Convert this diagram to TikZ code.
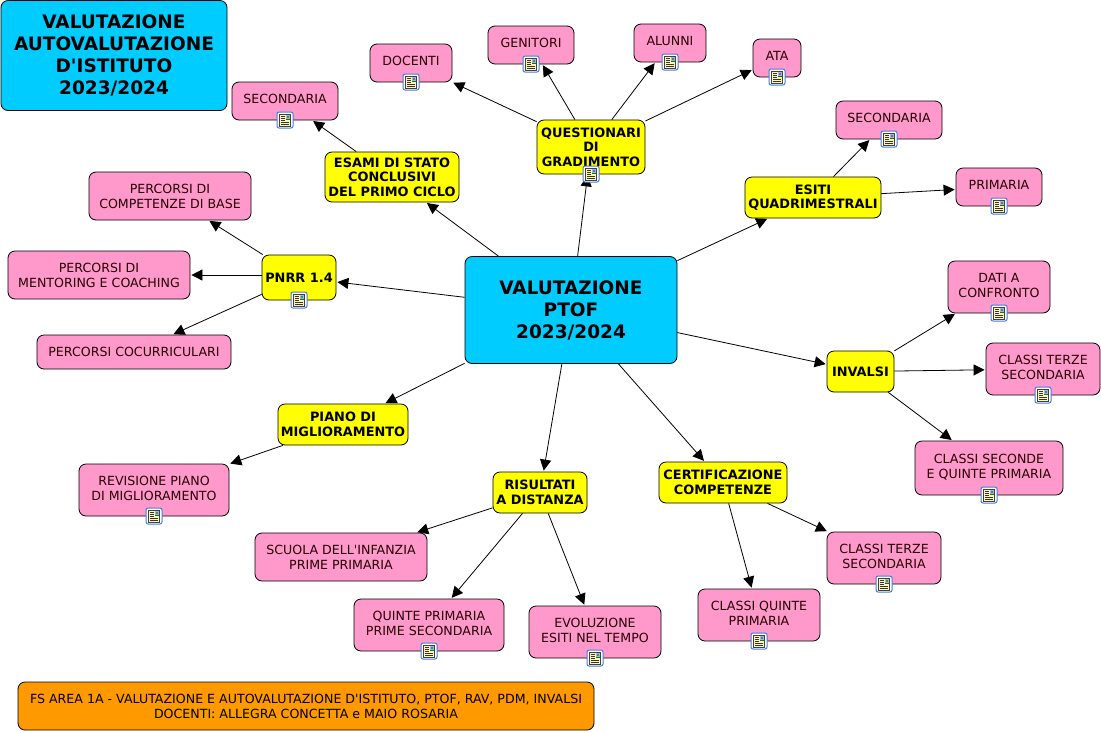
\documentclass[tikz,border=0pt]{standalone}
\usepackage{fontspec}
\setmainfont{DejaVu Sans}
\usetikzlibrary{arrows.meta}
\definecolor{skybox}{RGB}{0,204,255}
\definecolor{yellowbox}{RGB}{255,255,0}
\definecolor{pinkbox}{RGB}{255,153,204}
\definecolor{orangebox}{RGB}{255,153,0}
\definecolor{iconblue}{RGB}{70,125,220}
\definecolor{iconpaper}{RGB}{255,245,185}
\newcommand{\upnote}{\\[-11pt]}
\tikzset{
  box/.style={draw=black,rounded corners=7pt,line width=0.8pt,align=center,inner sep=0pt},
  leaf/.style={box,fill=pinkbox,font=\fontsize{12.6}{15}\selectfont,text=black!85!red},
  topic/.style={box,fill=yellowbox,font=\fontsize{12.9}{14.5}\selectfont\bfseries},
  mainbox/.style={box,fill=skybox,font=\fontsize{18.5}{22}\selectfont\bfseries},
  link/.style={-{Triangle[length=11pt,width=11pt]},line width=0.8pt,shorten >=1pt},
  noteicon/.pic={
    \draw[iconblue,fill=white,rounded corners=2pt,line width=1pt] (-8,-8) rectangle (8,8);
    \draw[black!75,fill=iconpaper,line width=0.6pt] (-5.5,-6) rectangle (5.5,6);
    \fill[iconblue!55] (0.5,-5.5) rectangle (5,0);
    \fill[black!55] (1.5,-4) rectangle (3.5,-2);
    \fill[green!50!black] (0.5,-1.5) rectangle (5,0);
    \foreach \ly in {-3.5,-1.5,0.5} \draw[black!80,line width=0.6pt] (-4,\ly) -- (-0.5,\ly);
    \foreach \ly in {2.3,4} \draw[black!80,line width=0.6pt] (-4,\ly) -- (4,\ly);
  },
}
\begin{document}
\begin{tikzpicture}[x=1pt,y=-1pt]
  \useasboundingbox (0,0) rectangle (1101,732);
  % main boxes
  \node[mainbox,minimum width=226pt,minimum height=110pt] (titolo) at (114,55.5) {VALUTAZIONE\\AUTOVALUTAZIONE\\D\textquotesingle ISTITUTO\\2023/2024};
  \node[mainbox,minimum width=212pt,minimum height=107pt] (ptof) at (571,310) {VALUTAZIONE\\PTOF\\2023/2024};
  \node[box,fill=orangebox,font=\fontsize{12.6}{15}\selectfont,minimum width=576pt,minimum height=48pt] (area) at (306,706) {FS AREA 1A - VALUTAZIONE E AUTOVALUTAZIONE D\textquotesingle ISTITUTO, PTOF, RAV, PDM, INVALSI\\DOCENTI: ALLEGRA CONCETTA e MAIO ROSARIA};
  % topics
  \node[topic,minimum width=108pt,minimum height=54pt] (quest) at (591,147) {QUESTIONARI\\DI\\GRADIMENTO};
  \node[topic,minimum width=134pt,minimum height=50pt] (esami) at (392,177) {ESAMI DI STATO\\CONCLUSIVI\\DEL PRIMO CICLO};
  \node[topic,minimum width=136pt,minimum height=41pt] (esiti) at (813,197.5) {ESITI\\QUADRIMESTRALI};
  \node[topic,minimum width=74pt,minimum height=45pt] (pnrr) at (299,277.5) {PNRR 1.4};
  \node[topic,minimum width=67pt,minimum height=41pt] (invalsi) at (860.5,371.5) {INVALSI};
  \node[topic,minimum width=130pt,minimum height=41pt] (piano) at (343,424.5) {PIANO DI\\MIGLIORAMENTO};
  \node[topic,minimum width=94pt,minimum height=41pt] (risultati) at (540,492.5) {RISULTATI\\A DISTANZA};
  \node[topic,minimum width=128pt,minimum height=41pt] (certif) at (723,482.5) {CERTIFICAZIONE\\COMPETENZE};
  % leaves
  \node[leaf,minimum width=106pt,minimum height=38pt] (secesami) at (285,101) {SECONDARIA\upnote};
  \node[leaf,minimum width=82pt,minimum height=38pt] (docenti) at (411,63) {DOCENTI\upnote};
  \node[leaf,minimum width=86pt,minimum height=38pt] (genitori) at (531,45) {GENITORI\upnote};
  \node[leaf,minimum width=72pt,minimum height=38pt] (alunni) at (670,43) {ALUNNI\upnote};
  \node[leaf,minimum width=48pt,minimum height=38pt] (ata) at (777,58) {ATA\upnote};
  \node[leaf,minimum width=106pt,minimum height=38pt] (secesiti) at (889,120) {SECONDARIA\upnote};
  \node[leaf,minimum width=86pt,minimum height=38pt] (primaria) at (999,187) {PRIMARIA\upnote};
  \node[leaf,minimum width=162pt,minimum height=48pt] (compbase) at (170,196) {PERCORSI DI\\COMPETENZE DI BASE};
  \node[leaf,minimum width=182pt,minimum height=48pt] (mentoring) at (99,275) {PERCORSI DI\\MENTORING E COACHING};
  \node[leaf,minimum width=194pt,minimum height=34pt] (cocurr) at (134,352) {PERCORSI COCURRICULARI};
  \node[leaf,minimum width=102pt,minimum height=52pt] (dati) at (999,287) {DATI A\\CONFRONTO\upnote};
  \node[leaf,minimum width=114pt,minimum height=52pt] (terzeinv) at (1043,369) {CLASSI TERZE\\SECONDARIA\upnote};
  \node[leaf,minimum width=148pt,minimum height=54pt] (seconde) at (989,468) {CLASSI SECONDE\\E QUINTE PRIMARIA\upnote};
  \node[leaf,minimum width=150pt,minimum height=52pt] (revisione) at (154,490) {REVISIONE PIANO\\DI MIGLIORAMENTO\upnote};
  \node[leaf,minimum width=172pt,minimum height=48pt] (infanzia) at (341,557) {SCUOLA DELL\textquotesingle INFANZIA\\PRIME PRIMARIA};
  \node[leaf,minimum width=150pt,minimum height=52pt] (quinte) at (429,625) {QUINTE PRIMARIA\\PRIME SECONDARIA\upnote};
  \node[leaf,minimum width=132pt,minimum height=52pt] (evoluz) at (595,632) {EVOLUZIONE\\ESITI NEL TEMPO\upnote};
  \node[leaf,minimum width=114pt,minimum height=52pt] (terzecert) at (884,558) {CLASSI TERZE\\SECONDARIA\upnote};
  \node[leaf,minimum width=122pt,minimum height=52pt] (quintecert) at (759,615) {CLASSI QUINTE\\PRIMARIA\upnote};
  % connectors
  \foreach \a/\b in {ptof/quest,ptof/esami,ptof/esiti,ptof/pnrr,ptof/invalsi,ptof/piano,ptof/risultati,ptof/certif,
    quest/docenti,quest/genitori,quest/alunni,quest/ata,esami/secesami,esiti/secesiti,esiti/primaria,
    pnrr/compbase,pnrr/cocurr,invalsi/dati,invalsi/terzeinv,invalsi/seconde,piano/revisione,
    risultati/infanzia,risultati/quinte,risultati/evoluz,certif/terzecert,certif/quintecert}
    \draw[link] (\a) -- (\b);
  \draw[link] (pnrr.west |- mentoring.east) -- (mentoring.east);
  % icons
  \foreach \ix/\iy in {285/120,411/82,531/64,670/62,777/77,591/174,889/139,999/206,299/300,999/313,1043/395,989/495,154/516,429/651,595/658,884/584,759/641}
    \pic at (\ix,\iy) {noteicon};
\end{tikzpicture}
\end{document}
